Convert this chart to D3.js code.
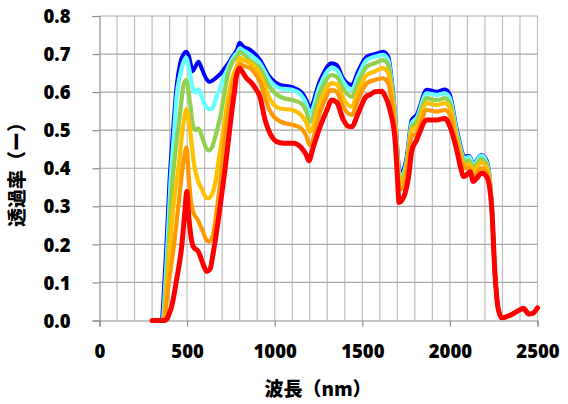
<!DOCTYPE html>
<html><head><meta charset="utf-8">
<script src="https://cdn.jsdelivr.net/npm/d3@7"></script>
<style>body{margin:0;background:#fff;}svg{display:block;}</style>
</head><body>
<svg id="c" width="568" height="404"></svg>
<script>
const xTicks = [0, 500, 1000, 1500, 2000, 2500];
const yTicks = [0, 0.1, 0.2, 0.3, 0.4, 0.5, 0.6, 0.7, 0.8];
const xTitle = "波長（nm）";
const yTitle = "透過率（ー）";
const tail = [[2257,0.125],[2276,0.03],[2296,0.007],[2350,0.015],[2400,0.028],[2420,0.032],[2450,0.017],[2470,0.018],[2500,0.033]];

const blue = [[300,0],[350,0],[358,0.01],[370,0.10],[380,0.18],[400,0.37],[420,0.50],[440,0.615],[460,0.675],[480,0.70],[495,0.706],[510,0.695],[532,0.655],[545,0.665],[565,0.68],[585,0.66],[610,0.635],[630,0.627],[650,0.632],[670,0.64],[690,0.648],[710,0.66],[730,0.672],[750,0.687],[770,0.70],[785,0.712],[800,0.73],[820,0.72],[860,0.711],[915,0.685],[970,0.641],[1030,0.619],[1100,0.613],[1150,0.601],[1180,0.58],[1200,0.56],[1260,0.632],[1325,0.676],[1355,0.671],[1390,0.636],[1440,0.619],[1475,0.654],[1525,0.693],[1570,0.70],[1620,0.706],[1648,0.693],[1668,0.632],[1688,0.536],[1705,0.42],[1715,0.385],[1735,0.396],[1754,0.431],[1782,0.527],[1810,0.54],[1868,0.606],[1925,0.601],[1972,0.607],[2000,0.593],[2040,0.50],[2087,0.431],[2110,0.432],[2134,0.413],[2180,0.435],[2210,0.42],[2238,0.31]].concat(tail);

const cyan = [[300,0],[350,0],[363,0.01],[375,0.09],[385,0.17],[405,0.36],[425,0.49],[440,0.588],[460,0.645],[480,0.68],[495,0.69],[510,0.665],[535,0.606],[550,0.60],[565,0.607],[585,0.585],[610,0.56],[630,0.555],[645,0.558],[665,0.585],[690,0.613],[710,0.64],[730,0.66],[750,0.68],[770,0.695],[790,0.706],[800,0.715],[820,0.71],[860,0.698],[915,0.676],[970,0.632],[1030,0.61],[1100,0.606],[1150,0.593],[1180,0.57],[1200,0.545],[1260,0.619],[1325,0.663],[1355,0.658],[1390,0.628],[1440,0.606],[1475,0.641],[1525,0.684],[1570,0.693],[1620,0.698],[1648,0.684],[1668,0.623],[1688,0.532],[1705,0.41],[1715,0.377],[1735,0.387],[1754,0.422],[1782,0.518],[1810,0.532],[1868,0.597],[1925,0.593],[1972,0.597],[2000,0.584],[2040,0.492],[2087,0.426],[2110,0.43],[2134,0.41],[2180,0.433],[2210,0.415],[2238,0.31]].concat(tail);

const green = [[300,0],[350,0],[368,0.01],[380,0.09],[390,0.16],[410,0.33],[440,0.47],[460,0.545],[478,0.614],[495,0.632],[517,0.571],[535,0.51],[550,0.50],[565,0.505],[585,0.483],[610,0.452],[625,0.447],[640,0.453],[665,0.49],[690,0.536],[710,0.59],[735,0.65],[760,0.68],[785,0.693],[800,0.705],[820,0.70],[860,0.683],[915,0.663],[970,0.614],[1030,0.588],[1100,0.579],[1150,0.571],[1180,0.55],[1200,0.522],[1260,0.601],[1325,0.645],[1355,0.64],[1390,0.61],[1440,0.588],[1475,0.623],[1525,0.667],[1570,0.676],[1620,0.684],[1648,0.671],[1668,0.614],[1688,0.523],[1705,0.40],[1715,0.37],[1735,0.378],[1754,0.413],[1782,0.509],[1810,0.523],[1868,0.584],[1925,0.579],[1972,0.584],[2000,0.571],[2040,0.483],[2087,0.418],[2110,0.42],[2134,0.403],[2180,0.425],[2210,0.41],[2238,0.305]].concat(tail);

const yellow = [[300,0],[350,0],[370,0.01],[385,0.09],[395,0.15],[415,0.27],[450,0.40],[480,0.52],[497,0.555],[517,0.50],[540,0.41],[560,0.37],[585,0.345],[605,0.325],[620,0.321],[640,0.33],[660,0.36],[680,0.42],[707,0.50],[735,0.588],[760,0.64],[783,0.667],[800,0.69],[820,0.685],[860,0.676],[915,0.65],[970,0.584],[1030,0.557],[1100,0.553],[1150,0.54],[1180,0.52],[1200,0.496],[1260,0.575],[1325,0.623],[1355,0.62],[1390,0.584],[1440,0.562],[1475,0.601],[1525,0.645],[1570,0.654],[1620,0.663],[1648,0.65],[1668,0.597],[1688,0.509],[1705,0.39],[1715,0.361],[1735,0.37],[1754,0.405],[1782,0.501],[1810,0.509],[1868,0.571],[1925,0.566],[1972,0.571],[2000,0.557],[2040,0.474],[2087,0.409],[2110,0.41],[2134,0.395],[2180,0.415],[2210,0.40],[2238,0.303]].concat(tail);

const orange = [[300,0],[350,0],[372,0.01],[390,0.08],[405,0.13],[420,0.18],[450,0.30],[480,0.42],[497,0.455],[507,0.395],[520,0.32],[535,0.285],[560,0.265],[585,0.24],[610,0.212],[625,0.207],[645,0.22],[669,0.29],[697,0.396],[720,0.50],[745,0.58],[770,0.635],[790,0.66],[805,0.675],[820,0.67],[860,0.663],[915,0.628],[970,0.553],[1030,0.523],[1100,0.514],[1150,0.505],[1180,0.485],[1200,0.461],[1260,0.549],[1325,0.606],[1355,0.60],[1390,0.562],[1440,0.54],[1475,0.579],[1525,0.623],[1570,0.632],[1620,0.636],[1648,0.623],[1668,0.575],[1688,0.492],[1705,0.37],[1715,0.345],[1735,0.352],[1754,0.392],[1782,0.483],[1810,0.492],[1868,0.553],[1925,0.549],[1972,0.553],[2000,0.54],[2040,0.461],[2087,0.40],[2110,0.40],[2134,0.38],[2180,0.40],[2210,0.39],[2238,0.302]].concat(tail);

const red = [[300,0],[370,0],[383,0.003],[395,0.015],[412,0.037],[440,0.107],[469,0.194],[488,0.29],[498,0.339],[510,0.27],[535,0.194],[564,0.181],[590,0.15],[612,0.129],[631,0.135],[650,0.18],[678,0.264],[700,0.34],[716,0.396],[735,0.47],[754,0.545],[770,0.60],[783,0.645],[800,0.663],[820,0.65],[840,0.636],[860,0.628],[890,0.61],[916,0.588],[945,0.527],[973,0.492],[1011,0.47],[1049,0.466],[1106,0.466],[1154,0.453],[1180,0.435],[1195,0.42],[1220,0.455],[1259,0.509],[1300,0.555],[1325,0.579],[1354,0.573],[1392,0.527],[1420,0.51],[1440,0.509],[1477,0.545],[1525,0.59],[1544,0.593],[1572,0.601],[1610,0.602],[1630,0.59],[1658,0.553],[1687,0.474],[1700,0.38],[1710,0.31],[1725,0.315],[1744,0.334],[1765,0.38],[1782,0.445],[1810,0.474],[1868,0.527],[1925,0.527],[1972,0.531],[2000,0.51],[2039,0.448],[2065,0.395],[2077,0.378],[2090,0.38],[2115,0.391],[2134,0.365],[2155,0.375],[2181,0.387],[2210,0.378],[2238,0.30]].concat(tail);

const series = [
  {data: blue, color: "#0000ff", w: 4},
  {data: cyan, color: "#66ffff", w: 4.2},
  {data: green, color: "#92d050", w: 4.2},
  {data: yellow, color: "#ffc000", w: 4.2},
  {data: orange, color: "#ff9900", w: 4.2},
  {data: red, color: "#ff0000", w: 5}
];

const svg = d3.select("#c");
const x = d3.scaleLinear().domain([0, 2500]).range([99.5, 537.5]);
const y = d3.scaleLinear().domain([0, 0.8]).range([320.5, 16]);

// grid
const g = svg.append("g");
g.selectAll(".vg").data(d3.range(100, 2501, 100)).join("line")
  .attr("x1", d => x(d)).attr("x2", d => x(d)).attr("y1", y(0.8)).attr("y2", y(0))
  .attr("stroke", "#bfbfbf").attr("stroke-width", 1.2);
g.selectAll(".hg").data(yTicks.slice(1)).join("line")
  .attr("x1", x(0)).attr("x2", x(2500)).attr("y1", d => y(d)).attr("y2", d => y(d))
  .attr("stroke", "#a6a6a6").attr("stroke-width", 1.2);

// axes
const xAxis = d3.axisBottom(x).tickValues(xTicks).tickSize(6).tickFormat(d3.format("d"));
const yAxis = d3.axisLeft(y).tickValues(yTicks).tickSize(7).tickFormat(d3.format(".1f"));
const gx = svg.append("g").attr("transform", `translate(0,${y(0)})`).call(xAxis);
const gy = svg.append("g").attr("transform", `translate(${x(0)},0)`).call(yAxis);
[gx, gy].forEach(a => {
  a.select(".domain").attr("stroke", "#8c8c8c").attr("stroke-width", 1.2);
  a.selectAll(".tick line").attr("stroke", "#8c8c8c").attr("stroke-width", 1.2);
  a.selectAll("text").attr("fill", "#000").attr("font-family", "'Open Sans', sans-serif")
    .attr("font-weight", "800").attr("font-size", "18.5px");
});
gx.selectAll("text").attr("dy", null).attr("y", 37);
gy.selectAll("text").attr("x", -29).attr("dy", "0.36em");

// lines
const line = d3.line().x(d => x(d[0])).y(d => y(d[1])).curve(d3.curveMonotoneX);
svg.append("g").selectAll("path").data(series).join("path")
  .attr("d", d => line(d.data)).attr("fill", "none")
  .attr("stroke", d => d.color).attr("stroke-width", d => d.w)
  .attr("stroke-linejoin", "round").attr("stroke-linecap", "round");

// titles
svg.append("text").attr("x", 318).attr("y", 396).attr("text-anchor", "middle")
  .attr("font-family", "'Noto Sans CJK JP', sans-serif").attr("font-weight", "900")
  .attr("font-size", "19px").text(xTitle);
svg.append("text").attr("transform", "translate(24,170) rotate(-90)").attr("text-anchor", "middle")
  .attr("font-family", "'Noto Sans CJK JP', sans-serif").attr("font-weight", "900")
  .attr("font-size", "19px").text(yTitle);
</script>
</body></html>
